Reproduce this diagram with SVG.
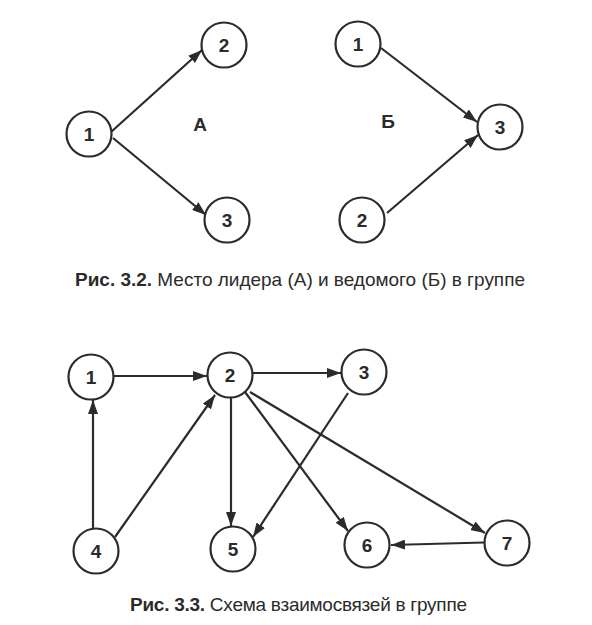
<svg xmlns="http://www.w3.org/2000/svg" width="592" height="625" viewBox="0 0 592 625">
<style>
.node circle{fill:#fff;stroke:#2b2b2b;stroke-width:2.2}
.node text,.lbl{font-family:"Liberation Sans",Arial,sans-serif;font-weight:bold;font-size:19px;fill:#2b2b2b;text-anchor:middle}
.edges line{stroke:#2b2b2b;stroke-width:2.2;marker-end:url(#ah)}
.cap{font-family:"Liberation Sans",Arial,sans-serif;font-size:19px;fill:#2b2b2b}
.cap .b{font-weight:bold}
</style>
<defs>
<marker id="ah" viewBox="0 0 14 10" refX="14" refY="5" markerWidth="14" markerHeight="10" markerUnits="userSpaceOnUse" orient="auto">
<path d="M0,0 L14,5 L0,10 z" fill="#2b2b2b"/>
</marker>
</defs>
<rect width="592" height="625" fill="#fff"/>
<g class="edges">
<line x1="111" y1="132" x2="202" y2="50"/>
<line x1="113" y1="138" x2="206" y2="215"/>
<line x1="381" y1="48" x2="477" y2="122"/>
<line x1="387" y1="213" x2="478" y2="135"/>
<line x1="114" y1="376" x2="207" y2="376"/>
<line x1="253" y1="373" x2="341" y2="373"/>
<line x1="93" y1="528" x2="93" y2="400"/>
<line x1="115" y1="537" x2="215" y2="395"/>
<line x1="231" y1="398" x2="231" y2="526"/>
<line x1="348" y1="393" x2="253" y2="537"/>
<line x1="245" y1="392" x2="348" y2="531"/>
<line x1="250" y1="392" x2="485" y2="533"/>
<line x1="484" y1="542.5" x2="391" y2="545"/>
</g>
<g id="a1" class="node"><circle cx="89" cy="134" r="22.5"/><text x="89" y="141">1</text></g>
<g id="a2" class="node"><circle cx="224" cy="45" r="22.5"/><text x="224" y="52">2</text></g>
<g id="a3" class="node"><circle cx="227" cy="220" r="22.5"/><text x="227" y="227">3</text></g>
<g id="b1" class="node"><circle cx="358" cy="44" r="22.5"/><text x="358" y="51">1</text></g>
<g id="b3" class="node"><circle cx="500" cy="127" r="22.5"/><text x="500" y="134">3</text></g>
<g id="b2" class="node"><circle cx="362" cy="220" r="22.5"/><text x="362" y="227">2</text></g>
<text class="lbl" x="200" y="131">А</text>
<text class="lbl" x="388" y="128">Б</text>
<text class="cap" x="75" y="286" textLength="450" lengthAdjust="spacing"><tspan class="b">Рис. 3.2.</tspan> Место лидера (А) и ведомого (Б) в группе</text>
<g id="n1" class="node"><circle cx="91" cy="377" r="22.5"/><text x="91" y="384">1</text></g>
<g id="n2" class="node"><circle cx="230" cy="375" r="22.5"/><text x="230" y="382">2</text></g>
<g id="n3" class="node"><circle cx="364" cy="372" r="22.5"/><text x="364" y="379">3</text></g>
<g id="n4" class="node"><circle cx="96" cy="551" r="22.5"/><text x="96" y="558">4</text></g>
<g id="n5" class="node"><circle cx="233" cy="549" r="22.5"/><text x="233" y="556">5</text></g>
<g id="n6" class="node"><circle cx="367" cy="545" r="22.5"/><text x="367" y="552">6</text></g>
<g id="n7" class="node"><circle cx="507" cy="543" r="22.5"/><text x="507" y="550">7</text></g>
<text class="cap" x="130" y="611" textLength="337" lengthAdjust="spacing"><tspan class="b">Рис. 3.3.</tspan> Схема взаимосвязей в группе</text>
</svg>
